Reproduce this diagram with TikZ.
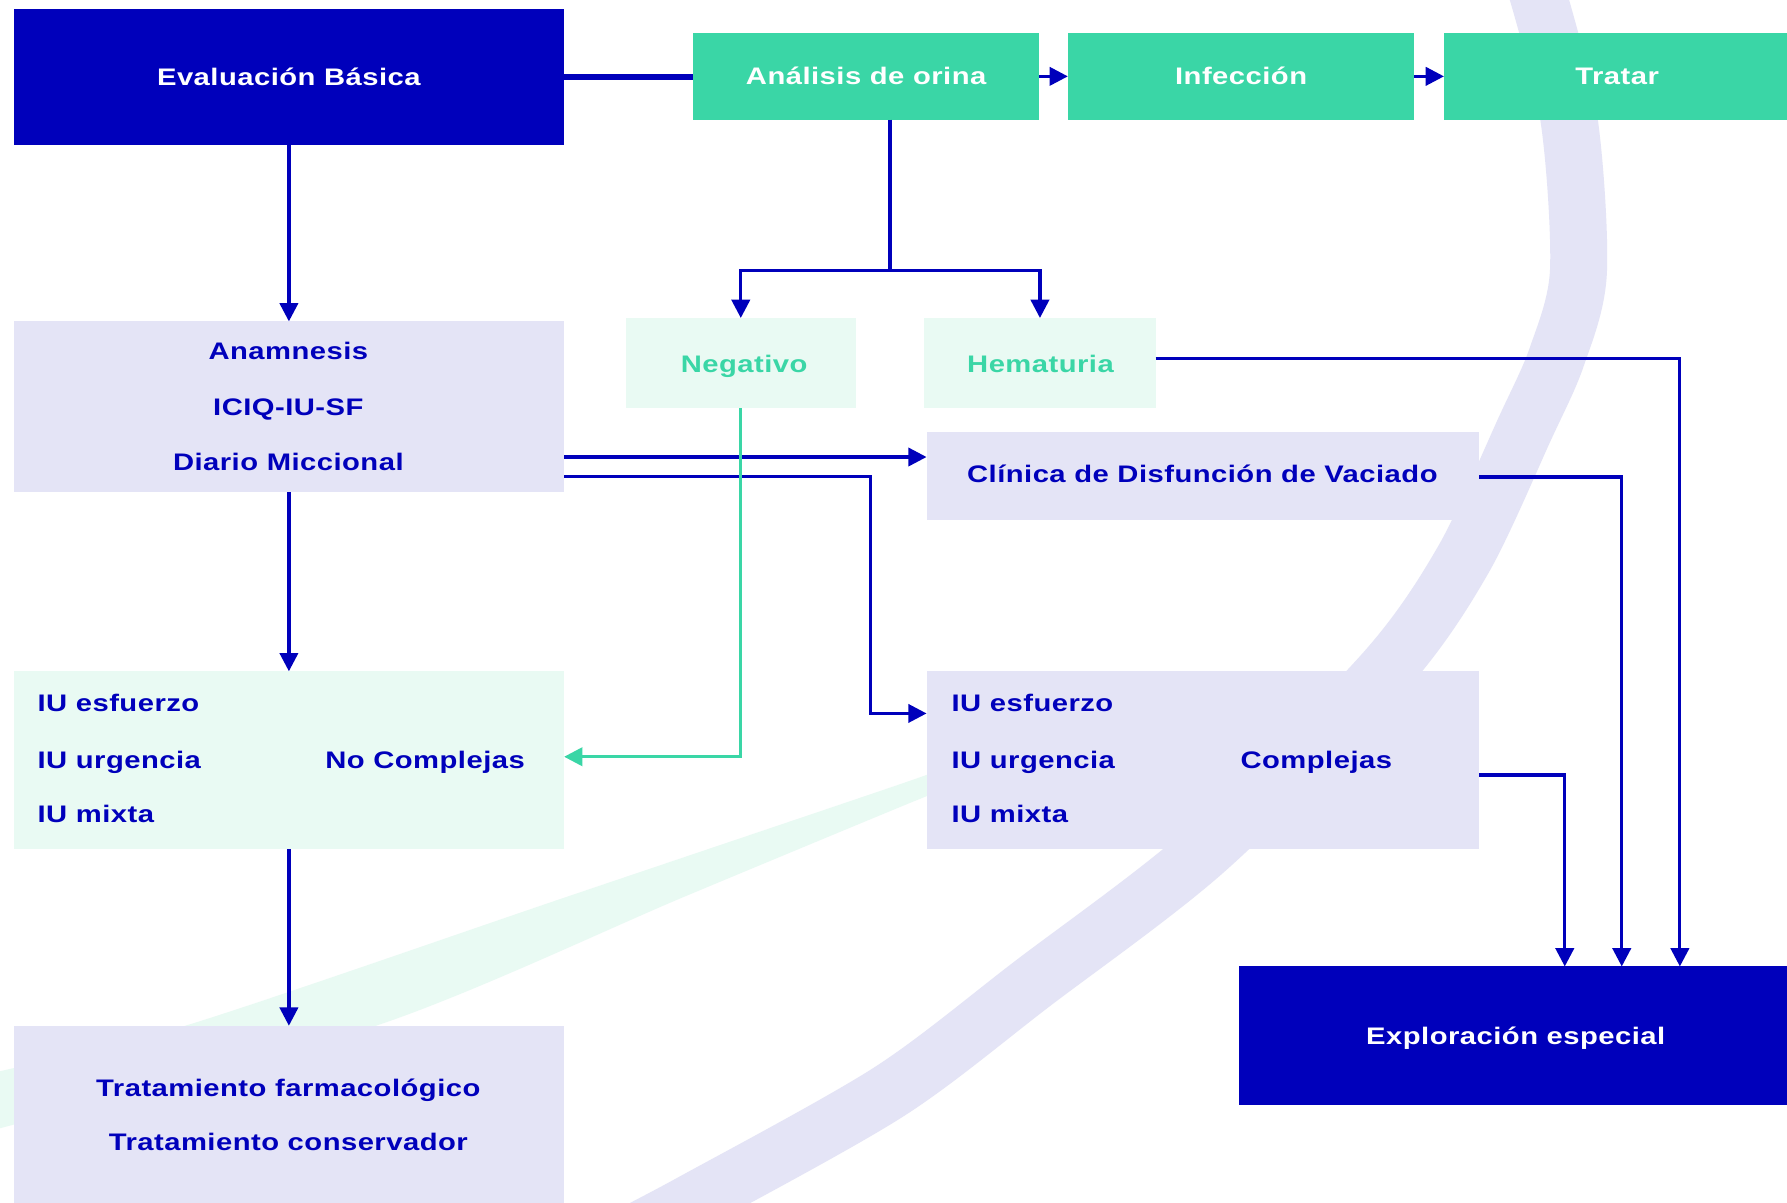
\documentclass[tikz,border=0pt]{standalone}
\usepackage{fontspec}
\setmainfont{Liberation Sans}[FakeStretch=1.22,LetterSpace=2]
\usetikzlibrary{arrows.meta,calc}
\definecolor{dblue}{HTML}{0000BB}
\definecolor{grn}{HTML}{3AD6A6}
\definecolor{lgrn}{HTML}{E9FAF3}
\definecolor{lav}{HTML}{E4E4F6}
\begin{document}
\begin{tikzpicture}[x=1pt,y=-1pt,
  box/.style={rectangle,inner sep=0pt,outer sep=0pt,anchor=north west},
  darkbox/.style={box,fill=dblue},
  grnbox/.style={box,fill=grn},
  lgbox/.style={box,fill=lgrn},
  lavbox/.style={box,fill=lav},
  txt/.style={inner sep=0pt,outer sep=0pt,text height=15pt,text depth=0pt,font=\fontsize{21pt}{25pt}\selectfont\bfseries},
  wtxt/.style={txt,text=white},
  gtxt/.style={txt,text=grn},
  btxt/.style={txt,text=dblue},
  tip/.style={-{Triangle[length=16pt,width=16pt]}},
  conn/.style={draw=dblue,line width=2.8pt,tip},
  gconn/.style={draw=grn,line width=2.8pt,tip},
  plain/.style={draw=dblue,line width=2.8pt},
  thickline/.style={draw=dblue,line width=6pt}
]
\useasboundingbox (0,0) rectangle (1568,1055);
\clip (0,0) rectangle (1568,1055);
\fill[white] (0,0) rectangle (1568,1055);
% background swooshes
\draw[lav,line width=50pt] plot[smooth] coordinates {(1342,-30) (1376,100) (1385,238) (1366,313) (1338,376) (1284,491) (1215,589) (1058,746) (906,863) (780,958) (607,1055) (540,1090)};
\fill[lgrn] plot[smooth] coordinates {(830,673) (790,688) (500,786) (166,899) (0,940) (-10,943)}
  -- plot[smooth] coordinates {(-10,993) (0,990) (333,899) (600,787) (790,708) (830,692)} -- cycle;
% boxes
\node[darkbox,minimum width=483pt,minimum height=119pt] (eval) at (12,8) {};
\node[wtxt] (evalt) at (eval.center) {Evaluación Básica};
\node[grnbox,minimum width=304pt,minimum height=76pt] (ana) at (608,29) {};
\node[wtxt] (anat) at (ana.center) {Análisis de orina};
\node[grnbox,minimum width=304pt,minimum height=76pt] (inf) at (937,29) {};
\node[wtxt] (inft) at (inf.center) {Infección};
\node[grnbox,minimum width=304pt,minimum height=76pt] (tra) at (1267,29) {};
\node[wtxt] (trat0) at (tra.center) {Tratar};
\node[lgbox,minimum width=202pt,minimum height=79pt] (neg) at (549,279) {};
\node[gtxt] (negt) at (653,319) {Negativo};
\node[lgbox,minimum width=203pt,minimum height=79pt] (hem) at (811,279) {};
\node[gtxt] (hemt) at (913,319) {Hematuria};
\node[lavbox,minimum width=483pt,minimum height=150pt] (anam) at (12,282) {};
\node[btxt] (anam1) at (253,308) {Anamnesis};
\node[btxt] (anam2) at (253,357) {ICIQ-IU-SF};
\node[btxt] (anam3) at (253,405) {Diario Miccional};
\node[lavbox,minimum width=485pt,minimum height=77pt] (clin) at (813,379) {};
\node[btxt] (clint) at (1055,416) {Clínica de Disfunción de Vaciado};
\node[lgbox,minimum width=483pt,minimum height=156pt] (nocomp) at (12,589) {};
\node[btxt,anchor=west] (nc1) at (33,617) {IU esfuerzo};
\node[btxt,anchor=west] (nc2) at (33,667) {IU urgencia};
\node[btxt,anchor=west] (nc3) at (33,714) {IU mixta};
\node[btxt] (nc4) at (373,667) {No Complejas};
\node[lavbox,minimum width=485pt,minimum height=156pt] (comp) at (813,589) {};
\node[btxt,anchor=west] (c1) at (835,617) {IU esfuerzo};
\node[btxt,anchor=west] (c2) at (835,667) {IU urgencia};
\node[btxt,anchor=west] (c3) at (835,714) {IU mixta};
\node[btxt] (c4) at (1155,667) {Complejas};
\node[lavbox,minimum width=483pt,minimum height=160pt] (trat) at (12,900) {};
\node[btxt] (trat1) at (253,955) {Tratamiento farmacológico};
\node[btxt] (trat2) at (253,1002) {Tratamiento conservador};
\node[darkbox,minimum width=485pt,minimum height=122pt] (expl) at (1087,848) {};
\node[wtxt] (explt) at (1330,909) {Exploración especial};
% connectors
\draw[thickline] (eval.east) -- (eval.east -| ana.west);
\draw[conn] (ana.east) -- (inf.west);
\draw[conn] (inf.east) -- (tra.west);
\coordinate (sp) at (781,237);
\draw[plain] (ana.south -| sp) -- (sp);
\draw[conn] (sp) -| (neg.north);
\draw[conn] (sp) -| (hem.north);
\coordinate (e1) at ($(expl.north west)+(286,0)$);
\coordinate (e2) at ($(expl.north west)+(336,0)$);
\coordinate (e3) at ($(expl.north west)+(387,0)$);
\draw[conn] ($(hem.east)+(0,-4)$) -| (e3);
\draw[conn] (eval.south) -- (anam.north);
\draw[conn] ($(anam.east)+(0,44)$) coordinate (a1) -- (a1 -| clin.west);
\draw[conn] ($(anam.east)+(0,61)$) -| ($(comp.west)+(-49,-41)$) -- ($(comp.west)+(0,-41)$);
\draw[conn] ($(clin.east)+(0,1)$) -| (e2);
\draw[conn] ($(comp.east)+(0,13)$) -| (e1);
\draw[conn] (anam.south) -- (nocomp.north);
\draw[gconn] (neg.south) |- ($(nocomp.east)+(0,-3)$);
\draw[conn] (nocomp.south) -- (trat.north);
\end{tikzpicture}
\end{document}
